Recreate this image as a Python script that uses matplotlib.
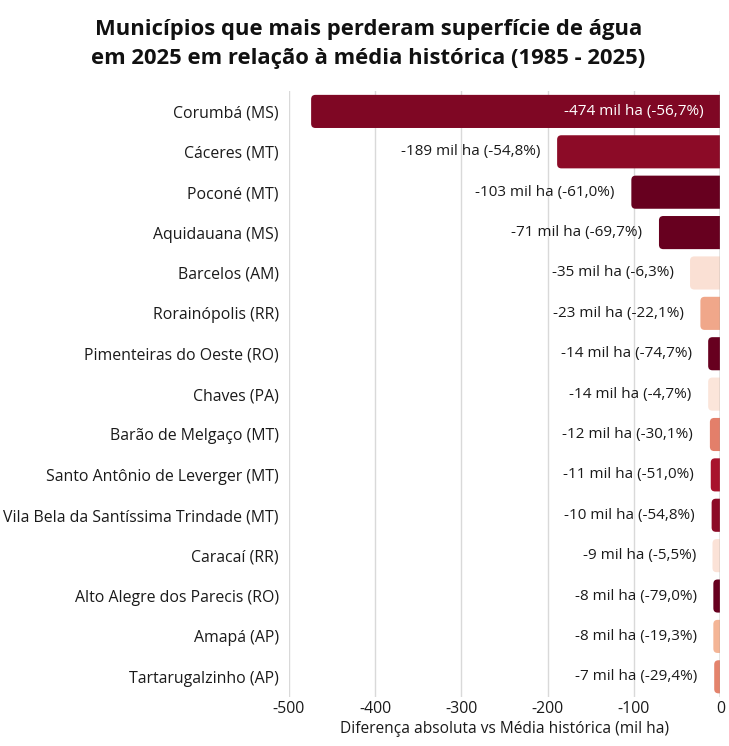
import matplotlib
matplotlib.use("Agg")
import matplotlib.pyplot as plt
from matplotlib.colors import LinearSegmentedColormap, Normalize
from matplotlib.patches import FancyBboxPatch

# Data
municipios = [
    "Corumbá (MS)", "Cáceres (MT)", "Poconé (MT)", "Aquidauana (MS)",
    "Barcelos (AM)", "Rorainópolis (RR)", "Pimenteiras do Oeste (RO)",
    "Chaves (PA)", "Barão de Melgaço (MT)", "Santo Antônio de Leverger (MT)",
    "Vila Bela da Santíssima Trindade (MT)", "Caracaí (RR)",
    "Alto Alegre dos Parecis (RO)", "Amapá (AP)", "Tartarugalzinho (AP)",
]
diff_mil_ha = [-474, -189, -103, -71, -35, -23, -14, -14, -12, -11, -10, -9, -8, -8, -7]
diff_pct = [-56.7, -54.8, -61.0, -69.7, -6.3, -22.1, -74.7, -4.7, -30.1, -51.0,
            -54.8, -5.5, -79.0, -19.3, -29.4]

plt.rcParams["font.family"] = ["Open Sans", "DejaVu Sans"]

cmap = LinearSegmentedColormap.from_list(
    "perda",
    [(0.0, "#fdf4f0"), (0.33, "#f4b394"), (0.5, "#e3806a"),
     (0.85, "#a8132d"), (1.0, "#67001f")],
)
norm = Normalize(vmin=0, vmax=60, clip=True)

fig = plt.figure(figsize=(7.29, 7.46), dpi=100)
ax = fig.add_axes([0.396, 0.0657, 0.592, 0.812])

n = len(municipios)
ypos = list(range(n))
ax.set_xlim(-500, 0)
ax.set_ylim(n - 0.5, -0.5)

# aspect for rounded corners (pixels per data unit)
fig.canvas.draw()
bbox = ax.get_window_extent()
px_x = bbox.width / 500
px_y = bbox.height / n
aspect = px_x / px_y

bar_h = 0.82
for y, v, p in zip(ypos, diff_mil_ha, diff_pct):
    color = cmap(norm(abs(p)))
    patch = FancyBboxPatch(
        (v, y - bar_h / 2), -v + 15, bar_h,
        boxstyle="round,pad=0,rounding_size=5",
        mutation_aspect=aspect,
        facecolor=color, edgecolor="none", zorder=2,
    )
    ax.add_patch(patch)
    label = f"{v} mil ha ({p:.1f}%)".replace(".", ",")
    if v < -300:
        ax.annotate(label, xy=(0, y), xytext=(-12, 0), textcoords="offset points",
                    ha="right", va="center", color="white", fontsize=11, zorder=4)
    else:
        ax.annotate(label, xy=(v, y), xytext=(-12, 0), textcoords="offset points",
                    ha="right", va="center", color="#1a1a1a", fontsize=11, zorder=4)

ax.set_yticks(ypos)
ax.set_yticklabels(municipios, fontsize=11.4, color="#1a1a1a")
ax.set_xticks([-500, -400, -300, -200, -100, 0])
ax.set_xticklabels(["-500", "-400", "-300", "-200", "-100", "0"], fontsize=11.4, color="#1a1a1a")
ax.tick_params(axis="both", length=0)
ax.tick_params(axis="y", pad=7)
ax.tick_params(axis="x", pad=3)

ax.grid(axis="x", color="#d9d9d9", linewidth=1, zorder=0)
ax.set_axisbelow(True)
ax.axvline(0, color="#999999", linewidth=1, zorder=3)
for s in ax.spines.values():
    s.set_visible(False)

ax.set_xlabel("Diferença absoluta vs Média histórica (mil ha)", fontsize=11.2,
              color="#1a1a1a", labelpad=3)

fig.suptitle("Municípios que mais perderam superfície de água\n"
             "em 2025 em relação à média histórica (1985 - 2025)",
             x=0.505, y=0.975, fontsize=15.8, fontweight="bold", color="#111111",
             linespacing=1.5)

fig.savefig("out.png", dpi=100, facecolor="white")
